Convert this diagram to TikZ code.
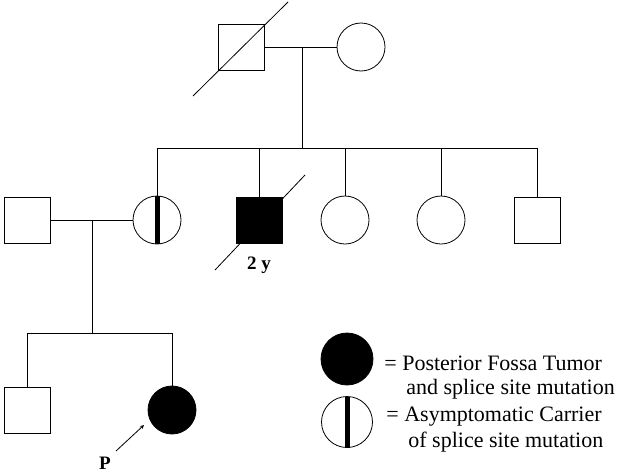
\documentclass[tikz,border=0pt]{standalone}
\usepackage{fontspec}
\setmainfont{Liberation Serif}
\usetikzlibrary{arrows}
\begin{document}
\begin{tikzpicture}[x=1pt, y=-1pt, line width=0.8pt,
	male/.style={draw, rectangle, minimum size=46pt, inner sep=0pt},
	female/.style={draw, circle, minimum size=48pt, inner sep=0pt},
	affected/.style={fill=black},
	legend/.style={anchor=base west, inner sep=0pt, font=\fontsize{22}{24}\selectfont}]

	\useasboundingbox (0,0) rectangle (618,474);

	% generation I
	\node[male] (gf) at (241,47) {};
	\node[female] (gm) at (361,47) {};
	\draw (193,96) -- (288,2);
	\draw (gf) -- (gm);
	\coordinate (m1) at (302,47);
	\coordinate (s1) at (302,148);
	\draw (m1) -- (s1);

	% generation II
	\node[male] (uncle) at (27,220) {};
	\node[female] (mother) at (157,220) {};
	\fill (154.5,196) rectangle (159.5,244);
	\node[male, affected] (brother) at (259,220) {};
	\node[female] (aunt1) at (345,220) {};
	\node[female] (aunt2) at (441,220) {};
	\node[male] (uncle2) at (537,220) {};
	\draw (215,270) -- (305,175);
	\node[font=\fontsize{19}{22}\selectfont\bfseries] (age) at (259,265) {2 y};

	\draw (157,148) -- (537,148);
	\foreach \n/\x in {mother/157, brother/259, aunt1/345, aunt2/441, uncle2/537}
		\draw (\x,148) -- (\n);

	% generation III
	\draw (uncle) -- (mother);
	\coordinate (m2) at (92,220);
	\coordinate (s2) at (92,333);
	\draw (m2) -- (s2);
	\node[male] (son) at (27,410) {};
	\node[female, affected] (proband) at (172,410) {};
	\draw (27,333) -- (172,333);
	\draw (27,333) -- (son);
	\draw (172,333) -- (proband);

	% proband arrow
	\node[font=\fontsize{19}{22}\selectfont\bfseries] (p) at (105,463) {P};
	\coordinate (pa) at (144,425);
	\draw[->, >=stealth] (116,451) -- (pa);

	% legend
	\node[female, affected, minimum size=52pt] (lg1) at (347,359) {};
	\node[female, minimum size=51pt] (lg2) at (347,422) {};
	\fill (344.5,396.5) rectangle (349.5,447.5);
	\node[legend] at (384,370) {= Posterior Fossa Tumor};
	\node[legend] at (406,394) {and splice site mutation};
	\node[legend] at (386,421) {= Asymptomatic Carrier};
	\node[legend] at (408,447) {of splice site mutation};
\end{tikzpicture}
\end{document}
